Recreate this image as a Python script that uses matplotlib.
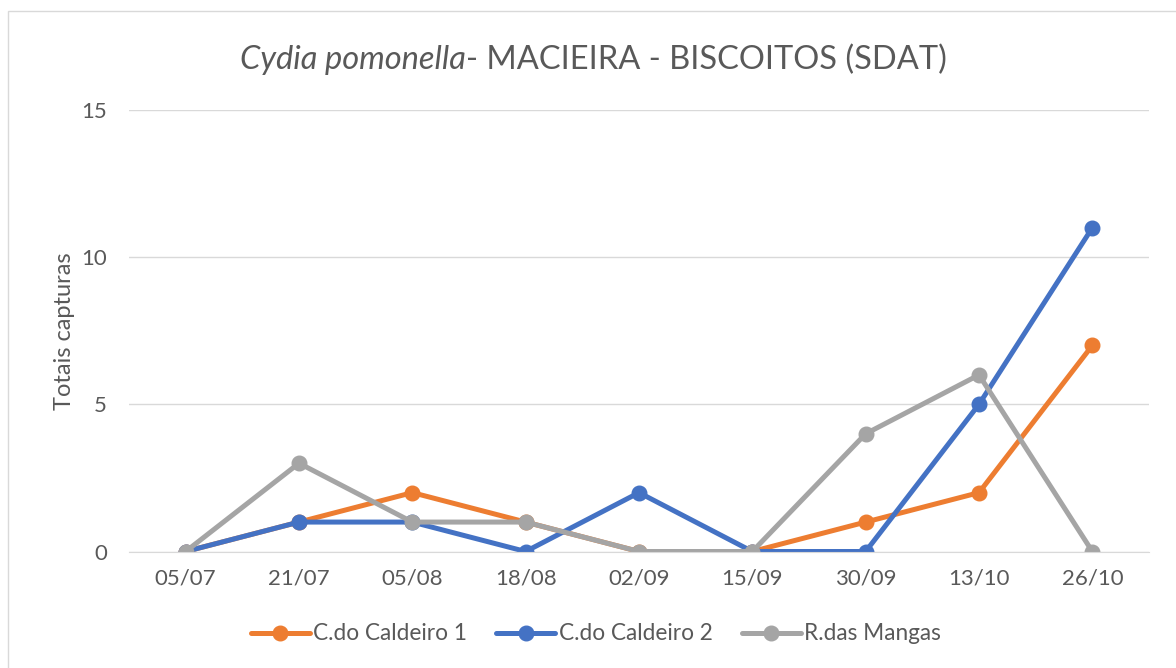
import matplotlib
matplotlib.use("Agg")
import matplotlib.pyplot as plt
from matplotlib.patches import Rectangle

plt.rcParams['font.family'] = ['Lato', 'DejaVu Sans']

dates = ['05/07', '21/07', '05/08', '18/08', '02/09', '15/09', '30/09', '13/10', '26/10']
caldeiro_1 = [0, 1, 2, 1, 0, 0, 1, 2, 7]
caldeiro_2 = [0, 1, 1, 0, 2, 0, 0, 5, 11]
mangas = [0, 3, 1, 1, 0, 0, 4, 6, 0]

series = [
    ('C.do Caldeiro 1', caldeiro_1, '#ED7D31'),
    ('C.do Caldeiro 2', caldeiro_2, '#4472C4'),
    ('R.das Mangas', mangas, '#A5A5A5'),
]

W, H = 1176, 668
fig = plt.figure(figsize=(W / 100, H / 100), dpi=100)
fig.patches.append(Rectangle((8 / W, -0.1), 1.2, 1 - 11 / H + 0.1, transform=fig.transFigure,
                             fill=False, edgecolor='#D9D9D9', linewidth=1))

ax = fig.add_axes([129 / W, 1 - 551.5 / H, (1149 - 129) / W, (551.5 - 110) / H])
x = list(range(len(dates)))
for name, vals, col in series:
    ax.plot(x, vals, color=col, linewidth=3.6, marker='o', markersize=10.5,
            solid_capstyle='round', label=name)

ax.set_xlim(-0.5, len(dates) - 0.5)
ax.set_ylim(0, 15)
ax.set_yticks([0, 5, 10, 15])
ax.set_xticks(x)
ax.set_xticklabels(dates)
ax.tick_params(axis='both', length=0, labelsize=16, colors='#595959')
ax.tick_params(axis='y', pad=16)
ax.tick_params(axis='x', pad=12)
ax.grid(axis='y', color='#D9D9D9', linewidth=1)
ax.set_axisbelow(True)
for s in ['top', 'right', 'left']:
    ax.spines[s].set_visible(False)
ax.spines['bottom'].set_color('#D9D9D9')
ax.set_ylabel('Totais capturas', fontsize=17, color='#595959', labelpad=4)

leg = fig.legend(loc='center', bbox_to_anchor=(596 / W, 1 - 634 / H), ncol=3, frameon=False,
                 fontsize=16.3, handlelength=2.6, columnspacing=1.3, handletextpad=0.15,
                 labelcolor='#595959')

# title: italic species name followed by normal text
fig.canvas.draw()
r = fig.canvas.get_renderer()
t1 = fig.text(0, 1 - 60 / H, 'Cydia pomonella', fontsize=23.5, style='italic', color='#595959', va='center')
t2 = fig.text(0, 1 - 60 / H, '- MACIEIRA - BISCOITOS (SDAT)', fontsize=23.5, color='#595959', va='center')
w1 = t1.get_window_extent(r).width
w2 = t2.get_window_extent(r).width
x0 = 593 - (w1 + w2) / 2
t1.set_x(x0 / W)
t2.set_x((x0 + w1) / W)

fig.savefig('out.png', dpi=100)
